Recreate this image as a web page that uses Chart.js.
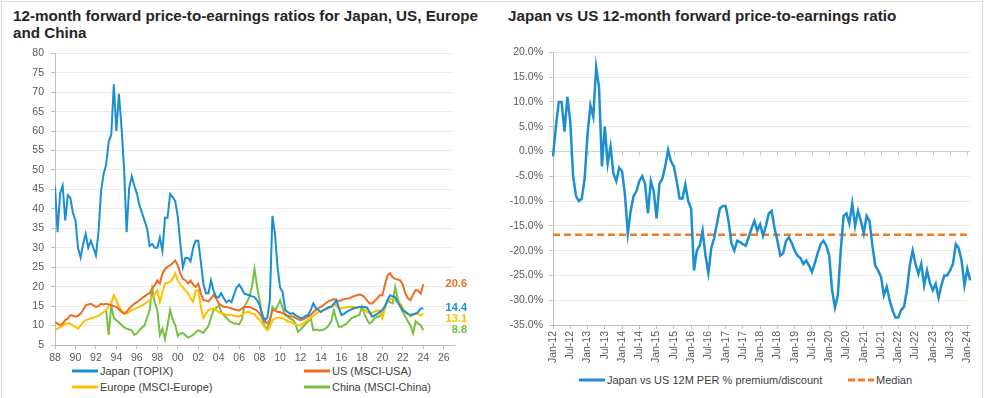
<!DOCTYPE html>
<html>
<head>
<meta charset="utf-8">
<script src="https://cdn.jsdelivr.net/npm/chart.js@4.4.1/dist/chart.umd.min.js"></script>
<style>
  body { margin: 0; background: #fff; width: 987px; height: 398px; position: relative; overflow: hidden;
         font-family: "Liberation Sans", Arial, sans-serif; }
  .frame { position: absolute; background: #d6d6d6; }
  .title { position: absolute; font-weight: bold; font-size: 15.2px; line-height: 17px; color: #262626; }
  #t1 { left: 13px; top: 7px; width: 478px; }
  #t2 { left: 508px; top: 7px; }
  #wrap1 { position: absolute; left: 0; top: 40px; width: 490px; height: 325px; }
  #wrap2 { position: absolute; left: 495px; top: 40px; width: 487px; height: 330px; }
  .item { position: absolute; display: flex; align-items: center; white-space: nowrap;
          font-size: 11px; color: #404040; }
  .item svg { margin-right: 2px; }
</style>
</head>
<body>
<div class="frame" style="left:1px;top:1px;width:1px;height:397px"></div>
<div class="frame" style="left:1px;top:1px;width:982px;height:1px"></div>
<div class="frame" style="left:982px;top:1px;width:1px;height:397px"></div>

<div class="title" id="t1">12-month forward price-to-earnings ratios for Japan, US, Europe and China</div>
<div class="title" id="t2">Japan vs US 12-month forward price-to-earnings ratio</div>

<div id="wrap1"><canvas id="left"></canvas></div>
<div id="wrap2"><canvas id="right"></canvas></div>

<div id="legend1"></div>
<div id="legend2"></div>

<script>
// ---- left chart: quarterly forward P/E, Q1 1988 .. Q1 2024 ----
const firstYear = 1988;

const japan = [
  45.8, 34, 44, 46,   37, 43.5, 42.8, 39,   37, 30, 27.5, 31,   33.6, 30, 31.8, 30,
  28, 34, 44.5, 49,   51.4, 57.3, 59, 72,   60, 69.6, 61, 50.4,   34, 45.4, 48.4, 46,
  44, 41, 39, 37,   35, 30.5, 31, 30,   30, 32.6, 29.2, 37.7,   37.7, 43.8, 43, 42,
  38, 31, 25, 27.4,   27.4, 26.5, 30, 31.8,   31.8, 26.5, 20.8, 18.3,   18.3, 21.6, 19, 17.3,
  17.3, 18.3, 17, 16,   16.5, 16, 18, 19.8,   20.5, 19.5, 18.2, 18,   17.8, 17.5, 17.3, 16.5,
  15.3, 13, 11.4, 12,   16.5, 38.2, 33.6, 25,   19.8, 18.6, 14, 13.5,   13, 13.2, 12.7, 12.3,
  11.9, 12, 12.5, 12.7,   14, 15.7, 14.5, 14,   13.5, 14, 14.3, 14.8,   14.8, 15.5, 16.5, 14.5,
  12.7, 13, 13.5, 13.9,   14.2, 14.5, 14.6, 14.8,   14.8, 14.8, 14.6, 13.5,   12.3, 12.6, 13, 13.5,
  13.9, 15, 16.5, 17.8,   17.5, 17.3, 16, 15,   13.9, 13.5, 13, 12.7,   12.9, 13.1, 13.5, 14.4,
  14.4
];
const us = [
  10.9, 10.5, 10.1, 10.5,   11.4, 11.8, 12.7, 12.5,   12.3, 12.5, 13.1, 14,   15.2, 15.4, 15.6, 15.2,
  14.8, 15, 15.6, 15.4,   15.6, 15.4, 15.2, 15,   14.8, 14.2, 13.5, 13.1,   13.5, 14.4, 15, 15.6,
  16, 16.5, 17, 17.5,   18, 18.3, 19.5, 20.3,   21.6, 20.8, 23.4, 24.5,   25.1, 25.5, 26, 26.7,
  25.5, 23.4, 22, 21.6,   20.8, 21.6, 20.5, 19.9,   20.8, 18.3, 16.6, 16.4,   16.2, 17, 17.9, 17,
  15.7, 15.2, 14.8, 14.8,   14.6, 14.4, 14.2, 14,   13.9, 14.3, 14.8, 14.8,   14.8, 14.5, 14.2, 13.8,
  13.1, 12, 11, 10.6,   11.5, 13.9, 14, 13.5,   13.5, 13.1, 13, 12.5,   12.3, 12.3, 12, 11.6,
  11.4, 11.6, 12, 12.3,   12.7, 13.5, 14, 14.5,   14.8, 15.3, 15.8, 16.3,   16.5, 16.8, 16.5, 16.3,
  16.5, 16.8, 16.9, 17,   17.3, 17.6, 17.8, 18,   17.8, 17.3, 16.5, 15.7,   15.7, 16.3, 17, 17.8,
  17.8, 20.5, 22.9, 23.5,   22.4, 22, 21.8, 21.6,   20.5, 18.2, 17, 16.5,   18, 19.1, 19, 18.2,
  20.6
];
const europe = [
  8.8, 9.2, 9.6, 10,   10.5, 10.5, 10.5, 10,   9.6, 9.2, 10, 10.8,   11.4, 11.6, 11.9, 12,
  12.3, 12.5, 13, 13.5,   14, 15, 15.6, 17.8,   16.5, 14.8, 14, 13.1,   13.1, 13.5, 14, 14.2,
  14.5, 14.8, 15.2, 15.6,   16, 16.5, 17.3, 18,   19, 16.1, 18.5, 20.8,   21, 21.2, 22, 23.4,
  21.6, 20.5, 19.9, 19,   18.3, 17, 16.1, 19,   19, 14.8, 11.9, 13,   14, 14.2, 14.4, 14,
  13.5, 13.1, 13, 12.8,   12.7, 12.7, 12.5, 12.4,   12.3, 12.8, 13.2, 13.5,   13.5, 13.1, 13, 12,
  11.5, 10.6, 9.5, 8.8,   9.5, 11.4, 11.8, 12,   12, 11.9, 11.5, 11,   11, 10.6, 10.3, 10.1,
  10.1, 10.5, 11, 11.5,   11.9, 12.5, 13, 13.5,   13.5, 14, 14.2, 14.4,   15, 15.7, 15, 14.6,
  14.4, 14.5, 14.7, 14.8,   14.8, 14.8, 14.8, 14.8,   14.8, 14.2, 13.5, 13.1,   13.3, 13.6, 13.8, 13.9,
  11.9, 14.5, 16.5, 16.8,   16.9, 16.5, 16, 15.7,   14.5, 13.5, 13, 12.3,   12.6, 13.1, 13, 12.6,
  13.1
];
const china = [
  null, null, null, null,   null, null, null, null,   null, null, null, null,   null, null, null, null,
  null, null, null, null,   14, 7.6, 15.2, 12,   11.3, 10.8, 10.2, 9.5,   9.2, 9, 8.8, 7.6,
  8, 8.8, 9.5, 10,   12, 14, 19.5, 16,   14, 7.6, 9.2, 6.5,   10, 14, 11.5, 10.2,
  7.3, 8, 8.1, 7.5,   6.9, 7.2, 7.6, 8.2,   8.8, 8.5, 8.1, 9,   9.9, 12, 14, 14.5,
  15.2, 13.5, 12.7, 12,   11.3, 10.8, 10.5, 10.5,   10.3, 11.5, 14.8, 16,   17.3, 20, 24.6, 20,
  16.5, 12, 9.7, 9.3,   11, 14.8, 13.9, 15,   16.5, 14.5, 12.7, 12.3,   11.8, 11.5, 10.5, 8.4,
  9, 9.7, 10.5, 11,   11.9, 8.8, 9, 8.8,   8.8, 9, 9.3, 10,   11, 13.9, 11.5, 9.7,
  9.7, 10.1, 10.5, 11.2,   11.9, 12.2, 12.5, 12.7,   14.8, 13, 11.5, 10.5,   11, 11.9, 12.2, 12.5,
  12.7, 14.5, 16.5, 16,   15.7, 19.9, 17, 14.8,   13.5, 12.3, 11, 10,   8, 11.1, 10.5, 10.1,
  8.8
];

const leftSeries = [
  { label: 'Japan (TOPIX)', values: japan, color: '#1b8fd0' },
  { label: 'US (MSCI-USA)', values: us, color: '#f26b21' },
  { label: 'Europe (MSCI-Europe)', values: europe, color: '#ffc000' },
  { label: 'China (MSCI-China)', values: china, color: '#76c043' }
];

// ---- right chart: monthly Japan vs US premium/discount (%), Jan-12 .. Feb-24 ----
const premium = [
  -1, 5, 10, 10, 4, 11, 6, -5, -9, -10, -9.5, -5.5,                   // 2012
  3.5, 9.3, 7, 17, 13, -3, 5, -2.5, 1, -4.5, -6, -3.3,                 // 2013
  -4, -8.7, -16.5, -12, -9, -8, -6, -5, -6.5, -12.5, -6, -8,           // 2014
  -13.5, -6.5, -5.5, -3, 0.3, -2, -3, -6, -9.5, -9.5, -6.7, -10,       // 2015
  -11.5, -24, -20, -19, -16, -21, -24.5, -19.5, -17.5, -14.5, -11.5, -11, // 2016
  -11, -14, -18.5, -20, -18, -18.3, -18.7, -19, -17.3, -15.5, -14, -16,  // 2017
  -14.7, -17, -15, -12.5, -12, -15.5, -18, -21, -20.5, -18, -17.3, -18.5, // 2018
  -20, -21, -21.5, -22.7, -22, -23, -24.3, -22.5, -20.5, -18.7, -18, -19, // 2019
  -21, -28, -31.5, -29, -20, -13, -12.5, -14.5, -10.5, -15, -12, -14,    // 2020
  -16.5, -13, -14, -19, -23, -24, -25.3, -29, -27.3, -30, -32, -33.5,    // 2021
  -33.5, -32, -31.3, -28, -23, -20, -22.7, -24.7, -22.7, -27, -24, -26.5, // 2022
  -28, -26.7, -29.5, -27, -25, -25, -24, -22.7, -18.7, -19.5, -22, -27,   // 2023
  -23.7, -26                                                            // 2024
];
const medianPct = -16.8;

const monthNames = ['Jan', 'Feb', 'Mar', 'Apr', 'May', 'Jun', 'Jul', 'Aug', 'Sep', 'Oct', 'Nov', 'Dec'];
const monthLabels = premium.map((_, i) =>
  monthNames[i % 12] + '-' + String(12 + Math.floor(i / 12)));

Chart.defaults.font.family = '"Liberation Sans", Arial, sans-serif';
Chart.defaults.font.size = 10.5;
Chart.defaults.color = '#595959';
Chart.defaults.animation = false;

// last-value labels to the right of the left plot
const endLabels = {
  id: 'endLabels',
  afterDatasetsDraw(chart) {
    const { ctx, chartArea, scales } = chart;
    const items = chart.data.datasets.map(ds => {
      const last = ds.data[ds.data.length - 1].y;
      return { text: last.toFixed(1), color: ds.borderColor, y: scales.y.getPixelForValue(last) };
    }).sort((a, b) => a.y - b.y);
    for (let i = 1; i < items.length; i++) {
      if (items[i].y - items[i - 1].y < 11) items[i].y = items[i - 1].y + 11;
    }
    ctx.save();
    ctx.font = 'bold 11px "Liberation Sans", Arial, sans-serif';
    ctx.textAlign = 'right';
    ctx.textBaseline = 'middle';
    items.forEach(it => {
      ctx.fillStyle = it.color;
      ctx.fillText(it.text, chartArea.right + 13, it.y);
    });
    ctx.restore();
  }
};

new Chart(document.getElementById('left'), {
  type: 'line',
  data: {
    datasets: leftSeries.map(s => ({
      label: s.label,
      data: s.values.map((v, i) => ({ x: firstYear + i / 4, y: v })),
      borderColor: s.color,
      backgroundColor: s.color,
      borderWidth: 2,
      pointRadius: 0,
      tension: 0,
      spanGaps: false
    }))
  },
  options: {
    responsive: true,
    maintainAspectRatio: false,
    layout: { padding: { top: 11, right: 36, left: 0, bottom: 0 } },
    plugins: { legend: { display: false }, tooltip: { enabled: false } },
    scales: {
      x: {
        type: 'linear',
        min: 1988,
        max: 2027,
        afterBuildTicks: s => { s.ticks = s.ticks.filter(t => t.value % 2 === 0); },
        afterFit: s => { s.height = 20; },
        ticks: { stepSize: 1, padding: 3, maxRotation: 0, autoSkip: false,
                 callback: v => String(v).slice(2) },
        grid: { drawOnChartArea: false, tickLength: 4, color: '#bfbfbf' },
        border: { color: '#bfbfbf' }
      },
      y: {
        min: 5,
        max: 80,
        afterFit: s => { s.width = 55; },
        ticks: { stepSize: 5, padding: 7 },
        grid: { color: '#ececec', tickColor: '#bfbfbf', tickLength: 4 },
        border: { color: '#bfbfbf' }
      }
    }
  },
  plugins: [endLabels]
});

// small tick marks along the 0% line of the right chart
const zeroTicks = {
  id: 'zeroTicks',
  beforeDatasetsDraw(chart) {
    const { ctx, scales } = chart;
    const y0 = scales.y.getPixelForValue(0);
    ctx.save();
    ctx.strokeStyle = '#c8c8c8';
    ctx.lineWidth = 1;
    scales.x.ticks.forEach((t, i) => {
      const x = Math.round(scales.x.getPixelForTick(i)) + 0.5;
      ctx.beginPath();
      ctx.moveTo(x, y0);
      ctx.lineTo(x, y0 + 4);
      ctx.stroke();
    });
    ctx.restore();
  }
};

new Chart(document.getElementById('right'), {
  type: 'line',
  data: {
    labels: monthLabels,
    datasets: [
      {
        label: 'Japan vs US 12M PER % premium/discount',
        data: premium,
        borderColor: '#1b8fcf',
        borderWidth: 2.5,
        pointRadius: 0,
        tension: 0
      },
      {
        label: 'Median',
        data: monthLabels.map(() => medianPct),
        borderColor: '#f47b20',
        borderWidth: 2.5,
        borderDash: [7, 4],
        pointRadius: 0
      }
    ]
  },
  options: {
    responsive: true,
    maintainAspectRatio: false,
    layout: { padding: { top: 10, right: 11, left: 0, bottom: 0 } },
    plugins: { legend: { display: false }, tooltip: { enabled: false } },
    scales: {
      x: {
        type: 'category',
        offset: false,
        afterBuildTicks: s => { s.ticks = s.ticks.filter(t => t.value % 6 === 0); },
        afterFit: s => { s.height = 45; },
        ticks: { autoSkip: false, minRotation: 90, maxRotation: 90, padding: 2,
                 callback: function (v) { return this.getLabelForValue(v); } },
        grid: { drawOnChartArea: false, tickLength: 4, color: '#bfbfbf' },
        border: { color: '#bfbfbf' }
      },
      y: {
        min: -35,
        max: 20,
        afterFit: s => { s.width = 58; },
        ticks: { stepSize: 5, padding: 6, callback: v => v.toFixed(1) + '%' },
        grid: {
          color: ctx => (ctx.tick && ctx.tick.value === 0 ? '#d0d0d0' : '#ececec'),
          tickColor: '#bfbfbf',
          tickLength: 4
        },
        border: { color: '#bfbfbf' }
      }
    }
  },
  plugins: [zeroTicks]
});

// legends (HTML)
function swatch(color, dash) {
  return '<svg width="26" height="6"><line x1="0" y1="3" x2="26" y2="3" stroke="' + color +
    '" stroke-width="3"' + (dash ? ' stroke-dasharray="' + dash + '"' : '') + '/></svg>';
}
const legendSpots1 = [[72, 372], [304, 372], [72, 388], [304, 388]];
document.getElementById('legend1').innerHTML = leftSeries.map((s, i) =>
  '<div class="item" style="left:' + legendSpots1[i][0] + 'px;top:' + (legendSpots1[i][1] - 7) + 'px">' +
  swatch(s.color) + s.label + '</div>').join('');

document.getElementById('legend2').innerHTML =
  '<div class="item" style="left:579px;top:374px">' + swatch('#1b8fcf') +
  'Japan vs US 12M PER % premium/discount</div>' +
  '<div class="item" style="left:848px;top:374px">' + swatch('#f47b20', '7,3') + 'Median</div>';
</script>
</body>
</html>
